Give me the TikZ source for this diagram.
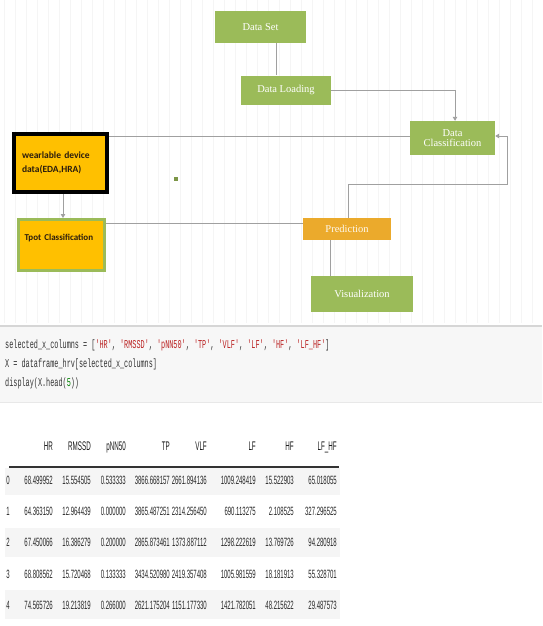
\documentclass[tikz,border=0pt]{standalone}
\usepackage{fontspec}
\setmainfont{Liberation Sans}
\setmonofont[FakeStretch=0.57]{Liberation Mono}
\newfontfamily\tabfont[FakeStretch=0.5]{Liberation Sans}
\newfontfamily\boxfont{Liberation Serif}
\newfontfamily\calfont{Carlito}
\usetikzlibrary{arrows.meta}
\definecolor{boxgreen}{HTML}{9BBB59}
\definecolor{boxgold}{HTML}{FFC000}
\definecolor{predgold}{HTML}{EBAA2C}
\definecolor{conn}{HTML}{A0A0A0}
\definecolor{codebg}{HTML}{F7F7F7}
\definecolor{strred}{HTML}{BA2121}
\definecolor{numgreen}{HTML}{008000}
\definecolor{darktext}{HTML}{2B1D0E}
\definecolor{codetext}{HTML}{333333}
\newcommand{\strc}[1]{\textcolor{strred}{#1}}
\tikzset{
  greenbox/.style={fill=boxgreen, draw=none, text=white, font=\boxfont\fontsize{10.5}{12}\selectfont, align=center, inner sep=0pt},
  gridline/.style={draw=black!4, line width=0.6pt},
  conn/.style={draw=conn, line width=0.9pt},
  arr/.style={conn, -{Triangle[length=4pt,width=4.5pt]}},
  code/.style={font=\ttfamily\fontsize{12}{14}\selectfont, text=codetext, inner sep=0pt, anchor=base west},
  tabtxt/.style={font=\tabfont\fontsize{12}{14}\selectfont, text=black!85, inner sep=0pt, anchor=base east},
  tabhead/.style={tabtxt, text=black!90, font=\tabfont\fontsize{12.5}{14}\selectfont},
}
\newcommand{\trow}[3]{%
  \foreach \xx/\vv [count=\kk] in {#3} \node[tabtxt] (r#1c\kk) at (\xx,#2) {\vv};}
\begin{document}
\begin{tikzpicture}[x=1pt,y=-1pt]
\useasboundingbox (0,0) rectangle (542,626);
\fill[white] (0,0) rectangle (542,626);
% faint canvas grid
\foreach \gx in {4,15,...,540} \draw[gridline] (\gx,0) -- (\gx,323);
% flowchart nodes
\node[greenbox, minimum width=91pt, minimum height=32pt] (dataset) at (260.5,27) {Data Set};
\node[greenbox, minimum width=90pt, minimum height=29pt] (dataload) at (286,90) {Data Loading};
\node[greenbox, minimum width=85pt, minimum height=34pt] (dataclass) at (452.5,138) {Data\\[-2pt]Classification};
\node[fill=boxgold, draw=black, line width=4pt, minimum width=93pt, minimum height=58pt,
      text width=77pt, inner xsep=8pt, align=left, text=darktext,
      font=\calfont\bfseries\fontsize{9.5}{14}\selectfont] (wear) at (60.5,163) {wearlable device\\data(EDA,HRA)};
\node[fill=boxgold, draw=boxgreen, line width=3pt, minimum width=86pt, minimum height=51pt,
      text width=74pt, inner xsep=6pt, align=left, text=darktext,
      font=\calfont\bfseries\fontsize{9}{11}\selectfont] (tpot) at (61.5,245) {\raisebox{16pt}{Tpot Classification}};
\node[fill=predgold, text=white!92!predgold, font=\boxfont\fontsize{10.5}{12}\selectfont, inner sep=0pt,
      minimum width=88pt, minimum height=22pt] (pred) at (347,229) {Prediction};
\node[greenbox, minimum width=102pt, minimum height=36pt] (vis) at (362,294) {Visualization};
\fill[boxgreen!80!black] (174,177) rectangle (178,181);
% helper coordinates
\coordinate (c1) at (276,0);
\coordinate (c3) at (63,0);
\coordinate (c4) at (0,223);
\coordinate (c5) at (348,0);
\coordinate (c6) at (507,184);
\coordinate (c7) at (330,0);
\coordinate (wl) at ([yshift=2pt]dataclass.west);
\coordinate (wr) at ([yshift=2pt]dataclass.east);
% connectors
\draw[conn] (dataset.south -| c1) -- (dataload.north -| c1);
\draw[arr] (dataload.east) -| ([xshift=2.5pt]dataclass.north);
\draw[conn] (wear.east |- wl) -- (wl);
\draw[arr] (wear.south -| c3) -- (tpot.north -| c3);
\draw[conn] (tpot.east |- c4) -- (pred.west |- c4);
\draw[arr] (pred.north -| c5) |- (c6) -- (c6 |- wr) -- (wr);
\draw[conn] (pred.south -| c7) -- (vis.north -| c7);
% code cell
\fill[black!16] (0,325) rectangle (542,327);
\fill[codebg] (0,327) rectangle (542,402);
\draw[black!9, line width=1pt] (0,402) -- (542,402);
\node[code] (code1) at (5,348.5) {selected\_x\_columns = [\strc{'HR'}, \strc{'RMSSD'}, \strc{'pNN50'}, \strc{'TP'}, \strc{'VLF'}, \strc{'LF'}, \strc{'HF'}, \strc{'LF\_HF'}]};
\node[code] (code2) at (5,367.5) {X = dataframe\_hrv[selected\_x\_columns]};
\node[code] (code3) at (5,386.5) {display(X.head(\textcolor{numgreen}{5}))};
% table stripes
\fill[black!4] (5,468) rectangle (340,495);
\fill[black!4] (5,528) rectangle (340,557);
\fill[black!4] (5,590) rectangle (340,619);
% header
\foreach \xx/\vv [count=\kk] in {53/HR,91/RMSSD,126/pNN50,170/TP,207/VLF,256/LF,294/HF,337/LF\_HF}
  \node[tabhead] (h\kk) at (\xx,450) {\vv};
\draw[black!80, line width=1.3pt] (9,467) -- (339,467);
% rows
\trow{0}{484}{10/0,53/68.499952,91/15.554505,126/0.533333,170/3866.668157,207/2661.894136,256/1009.248419,294/15.522903,337/65.018055}
\trow{1}{515}{10/1,53/64.363150,91/12.964439,126/0.000000,170/3865.487251,207/2314.256450,256/690.113275,294/2.108525,337/327.296525}
\trow{2}{546}{10/2,53/67.450066,91/16.386279,126/0.200000,170/2865.873461,207/1373.887112,256/1298.222619,294/13.769726,337/94.280918}
\trow{3}{578}{10/3,53/68.808562,91/15.720468,126/0.133333,170/3434.520980,207/2419.357408,256/1005.981559,294/18.181913,337/55.328701}
\trow{4}{609}{10/4,53/74.565726,91/19.213819,126/0.266000,170/2621.175204,207/1151.177330,256/1421.782051,294/48.215622,337/29.487573}
\end{tikzpicture}
\end{document}
